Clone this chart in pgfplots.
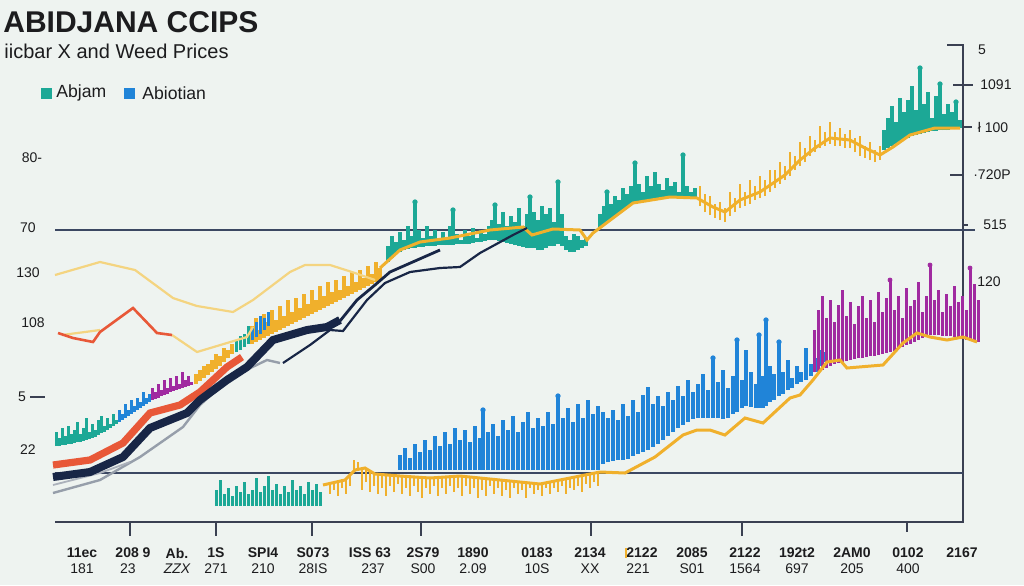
\documentclass[border=0pt]{standalone}
\usepackage{pgfplots}
\pgfplotsset{compat=1.18}
\usepackage{fontspec}
\setmainfont{Liberation Sans}
\definecolor{bg}{RGB}{238,243,240}
\definecolor{cteal}{RGB}{28,168,150}
\definecolor{cblue}{RGB}{32,132,216}
\definecolor{cyel}{RGB}{240,176,44}
\definecolor{cpale}{RGB}{244,212,128}
\definecolor{cred}{RGB}{232,88,56}
\definecolor{cnavy}{RGB}{24,38,70}
\definecolor{cgrey}{RGB}{150,158,170}
\definecolor{cpurp}{RGB}{160,42,160}
\definecolor{caxis}{RGB}{58,64,82}
\definecolor{ctext}{RGB}{28,28,30}
\pgfplotsset{
  vbars/.style={draw=#1, line width=1.8pt, quiver={u=0, v=\thisrow{t}-\thisrow{b}}},
}
\begin{document}
\begin{tikzpicture}
\fill[bg] (0,0) rectangle (512pt,292.5pt);
\begin{axis}[at={(0,0)}, anchor=south west, scale only axis, width=512pt, height=292.5pt,
  xmin=0, xmax=1024, ymin=0, ymax=585, y dir=reverse, hide axis, clip=false]

% frame lines
\addplot[caxis, line width=1pt] coordinates {(55,522) (963,522) (963,45) (947,45)};
\addplot[cnavy!85, line width=0.8pt] coordinates {(55,230) (975,230)};
\addplot[cnavy!85, line width=0.8pt] coordinates {(55,473) (963,473)};
% bottom ticks
\addplot[caxis, line width=0.7pt] coordinates {(130,522) (130,536)};
\addplot[caxis, line width=0.7pt] coordinates {(216,522) (216,536)};
\addplot[caxis, line width=0.7pt] coordinates {(312,522) (312,536)};
\addplot[caxis, line width=0.7pt] coordinates {(421,522) (421,536)};
\addplot[caxis, line width=0.7pt] coordinates {(591,522) (591,536)};
\addplot[caxis, line width=0.7pt] coordinates {(742,522) (742,536)};
\addplot[caxis, line width=0.7pt] coordinates {(907,522) (907,532)};
% right ticks
\addplot[caxis, line width=0.6pt] coordinates {(953,85) (973,85)};
\addplot[caxis, line width=0.6pt] coordinates {(963,127) (972,127)};
\addplot[caxis, line width=0.6pt] coordinates {(950,175) (963,175)};
\addplot[caxis, line width=0.6pt] coordinates {(963,225) (968,225)};
\addplot[caxis, line width=0.6pt] coordinates {(30,397) (45,397)};

% grey lines
\addplot[cgrey, line width=1.2pt] coordinates {(53,493) (100,480) (140,457) (183,427) (200,405) (230,378) (240,373) (267,360) (280,363)};
\addplot[cgrey!80, line width=0.9pt] coordinates {(53,485) (100,473) (130,462)};

% blue bars
\addplot[vbars=cblue, line width=1.7pt] table[x=x,y=b] {
x b t
400 470 455
405 470 448
410 470 458
415 470 444
420 470 452
425 470 440
430 470 450
435 470 436
440 470 446
445 470 432
450 470 444
455 470 428
460 470 440
465 470 430
470 470 442
475 470 426
480 470 438
483 470 410
488 470 432
493 470 424
498 470 436
503 470 420
508 470 430
513 470 416
518 470 432
523 470 422
528 470 412
533 470 428
538 470 418
543 470 426
548 470 412
553 470 424
558 470 396
563 470 418
568 470 408
573 470 422
578 470 404
583 470 418
588 470 400
593 470 414
598 470 406
603 464 412
608 462 418
613 461 410
618 460 420
623 460 404
628 459 416
633 456 400
638 454 412
643 452 395
648 450 387
653 447 404
658 444 396
663 440 406
668 436 392
673 432 400
678 428 386
683 425 396
688 422 380
693 419 392
698 418 384
703 418 374
708 418 390
713 418 358
718 418 382
723 419 370
728 418 388
733 414 376
737 412 340
742 408 380
746 406 350
751 407 372
756 408 384
759 408 335
763 408 376
766 406 320
770 402 366
774 400 374
779 396 342
783 394 372
788 390 360
792 388 378
797 384 366
801 382 372
806 380 348
811 376 364
816 372 358
821 366 350
826 362 352
};
\addplot[only marks, mark=*, mark size=1.1pt, cblue] coordinates {(483,410) (558,396) (713,358) (737,340) (759,335) (766,320) (779,342)};

% purple bars
\addplot[vbars=cpurp, line width=1.5pt] table[x=x,y=b] {
x b t
814 372 330
818 371 310
822 370 296
826 368 318
830 366 300
834 364 322
838 363 305
842 362 290
846 361 316
850 360 302
854 359 324
858 358 306
862 358 296
866 357 318
870 356 300
874 356 322
878 355 292
882 354 312
886 353 298
890 352 280
894 351 310
898 349 296
902 347 318
906 345 288
910 344 306
914 342 300
918 340 282
922 338 312
926 336 296
930 335 265
934 335 300
938 335 290
942 336 312
946 336 294
950 336 306
954 337 286
958 338 302
962 339 296
966 340 310
970 341 268
974 342 284
978 342 300
};
\addplot[only marks, mark=*, mark size=1pt, cpurp] coordinates {(930,265) (970,268) (890,280)};

% lower teal bars
\addplot[vbars=cteal, line width=1.5pt] table[x=x,y=b] {
x b t
216 506 490
220 506 480
224 506 494
228 506 488
232 506 496
236 506 486
240 506 492
244 506 482
248 506 494
252 506 490
256 506 478
260 506 492
264 506 486
268 506 476
272 506 490
276 506 484
280 506 494
284 506 486
288 506 492
292 506 480
296 506 490
300 506 486
304 506 494
308 506 482
312 506 490
316 506 484
320 506 492
};

% lower yellow hanging bars
\addplot[vbars=cyel, line width=1.3pt] table[x=x,y=b] {
x b t
330 482 494
334 481 490
338 480 496
342 479 488
346 478 494
350 476 486
354 472 460
358 470 462
362 470 490
366 470 482
370 472 492
374 474 486
378 475 494
382 475 488
386 476 496
390 476 486
394 476 492
398 476 484
402 476 494
406 477 488
410 477 496
414 477 486
418 477 492
422 478 498
426 478 488
430 478 494
434 478 486
438 477 496
442 477 488
446 477 494
450 476 486
454 476 492
458 476 488
462 476 496
466 477 486
470 478 494
474 478 488
478 479 498
482 479 490
486 480 496
490 480 486
494 480 494
498 480 488
502 481 496
506 481 490
510 482 498
514 482 488
518 483 494
522 483 490
526 484 498
530 484 488
534 484 494
538 484 490
542 484 496
546 483 488
550 482 494
554 481 488
558 480 492
562 479 486
566 478 494
570 478 488
574 477 490
578 476 486
582 475 492
586 474 484
590 473 488
594 472 482
598 472 486
};

% orange bars
\addplot[vbars=cyel, line width=1.6pt] table[x=x,y=b] {
x b t
252 344 326
256 342 318
260 340 330
264 338 314
268 336 322
272 334 310
276 332 320
280 330 306
284 328 316
288 326 300
292 324 312
296 322 298
300 320 308
304 318 294
308 316 304
312 314 290
316 312 300
320 310 286
324 308 296
328 306 282
332 304 292
336 302 280
340 300 290
344 298 276
348 296 286
352 294 272
356 292 282
360 290 270
364 288 278
368 286 266
372 284 274
376 282 262
380 280 268
};

% left small bars
\addplot[vbars=cteal, line width=1.5pt] table[x=x,y=b] {
x b t
56 446 432
59 446 438
62 445 428
65 445 436
68 444 426
71 444 434
74 443 430
77 442 422
80 442 434
83 441 428
86 440 418
89 439 432
92 438 424
95 437 430
98 435 420
101 433 416
104 432 426
107 430 418
110 428 424
113 426 414
116 424 420
236 352 340
240 350 336
244 347 334
248 344 326
};
\addplot[vbars=cblue, line width=1.5pt] table[x=x,y=b] {
x b t
119 422 410
122 420 414
125 418 404
128 416 410
131 414 400
134 412 406
137 410 398
140 408 402
143 406 392
146 404 398
149 402 394
252 340 328
256 337 322
260 334 316
264 330 318
268 326 312
};
\addplot[vbars=cpurp, line width=1.5pt] table[x=x,y=b] {
x b t
152 400 388
155 399 392
158 398 384
161 396 390
164 395 380
167 394 388
170 392 378
173 391 386
176 390 376
179 389 384
182 388 372
185 387 380
188 386 376
191 385 382
};
\addplot[vbars=cyel, line width=1.6pt] table[x=x,y=b] {
x b t
196 384 374
200 381 370
204 378 366
208 375 364
212 372 360
216 369 354
220 366 356
224 362 348
228 358 350
232 354 344
};

% upper teal cluster
\addplot[vbars=cteal] table[x=x,y=b] {
x b t
388 262 246
392 258 236
396 254 242
400 252 232
404 250 240
408 249 226
412 248 236
415 248 202
419 247 230
423 247 238
427 246 226
431 246 236
435 246 230
439 245 240
443 245 232
447 245 238
450 245 226
453 245 210
457 244 234
461 244 240
465 244 230
469 244 236
473 243 228
477 242 238
481 242 230
485 241 234
489 240 226
492 240 220
495 240 205
499 241 224
503 242 212
507 243 226
511 244 216
515 245 222
519 246 208
523 247 226
527 248 214
530 248 197
534 248 212
538 250 220
542 250 206
546 248 214
550 246 208
554 246 222
558 244 182
562 246 214
566 250 236
570 252 240
574 252 234
578 250 236
582 248 240
586 246 238
600 228 214
604 224 206
607 222 192
611 219 204
615 216 196
619 213 200
623 210 188
627 207 194
631 204 186
635 203 163
639 202 184
643 201 192
647 200 176
651 200 186
655 199 172
659 199 184
663 198 190
667 198 178
671 197 186
675 197 182
679 197 192
683 197 155
687 197 186
691 198 192
695 198 188
884 150 130
888 148 118
892 146 106
896 144 122
900 142 98
904 140 112
908 138 100
912 136 86
916 135 110
920 134 68
924 133 104
928 132 92
932 131 118
936 131 96
940 130 84
944 130 114
948 130 104
952 129 112
956 129 102
960 128 120
};
\addplot[only marks, mark=*, mark size=1.1pt, cteal] coordinates {(415,202) (453,210) (495,205) (530,197) (558,182) (607,192) (635,163) (683,155) (920,68) (940,84) (956,102)};

% upper yellow bars
\addplot[vbars=cyel, line width=1pt] table[x=x,y=b] {
x b t
700 206 186
705 212 194
710 215 196
715 218 204
720 220 202
725 222 208
730 216 192
735 212 198
740 208 184
745 206 192
750 204 180
755 200 186
760 198 176
765 196 180
770 192 170
775 188 170
780 184 162
785 180 166
790 176 152
795 170 156
800 166 142
805 162 148
810 156 136
815 152 140
820 148 126
825 146 132
830 144 122
835 146 132
840 146 128
845 148 134
850 148 130
855 152 138
860 156 136
865 158 146
870 160 142
875 162 150
880 160 146
};

% lines
\addplot[cpale, line width=1.1pt] coordinates {(55,275) (100,262) (135,270) (173,298) (197,306) (233,312) (253,300) (290,272) (305,265) (330,265) (352,272) (375,280)};
\addplot[cpale, line width=1.1pt] coordinates {(62,335) (85,332) (100,330)};
\addplot[cpale, line width=1.1pt] coordinates {(172,335) (197,352) (247,337) (253,327)};
\addplot[cred, line width=1.3pt] coordinates {(58,333) (73,338) (93,342) (100,332) (133,308) (157,333) (172,335)};
\addplot[cyel, line width=1.5pt] coordinates {(380,268) (400,250) (420,242) (450,238) (490,230) (523,227) (532,235) (553,229) (580,230) (587,240) (593,233) (613,218) (633,203) (670,197) (697,198) (713,207) (725,212) (740,200) (760,192) (785,175) (800,160) (815,148) (830,138) (850,140) (865,148) (880,155) (893,147) (910,135) (935,128) (960,128)};
\addplot[cyel, line width=1.5pt] coordinates {(323,485) (345,480) (355,470) (365,468) (375,474) (400,476) (430,478) (460,476) (500,480) (540,484) (570,478) (600,472) (625,473) (655,457) (683,435) (697,430) (710,430) (725,435) (745,418) (763,423) (790,398) (800,395) (813,380) (827,362) (840,360) (847,368) (883,365) (903,343) (917,333) (930,337) (947,340) (963,337) (977,342)};
\addplot[cred, line width=3.6pt] coordinates {(53,465) (90,460) (123,443) (150,413) (180,405) (200,392) (213,380) (227,367) (242,357)};
\addplot[cnavy, line width=4pt] coordinates {(53,477) (90,472) (123,457) (150,428) (187,413) (200,400) (227,380) (247,367) (273,340) (307,330) (327,327) (340,320)};
\addplot[cnavy, line width=1.4pt] coordinates {(340,321) (357,300) (375,285) (390,272) (440,250)};
\addplot[cnavy, line width=1.1pt] coordinates {(283,363) (310,345) (330,330) (343,331) (367,300) (385,283) (410,272) (440,268) (460,267) (480,253) (513,235) (527,228)};

% legend squares
\addplot[only marks, mark=square*, mark size=2.5pt, cteal] coordinates {(46,93)};
\addplot[only marks, mark=square*, mark size=2.5pt, cblue] coordinates {(129,93)};

% texts
\node[anchor=west, inner sep=0, text=ctext, font=\bfseries\fontsize{15}{18}\selectfont] at (axis cs:3,22) {ABIDJANA CCIPS};
\node[anchor=west, inner sep=0, text=ctext, font=\fontsize{10}{12}\selectfont] at (axis cs:4,51) {iicbar X and Weed Prices};
\node[anchor=west, inner sep=0, text=ctext, font=\fontsize{8.8}{10}\selectfont] at (axis cs:56,93) {Abjam};
\node[anchor=west, inner sep=0, text=ctext, font=\fontsize{8.8}{10}\selectfont] at (axis cs:142,93) {Abiotian};

\begin{scope}[every node/.style={inner sep=0, text=ctext, font=\fontsize{7}{8}\selectfont}]
\node at (axis cs:32,158) {80-};
\node at (axis cs:28,228) {70};
\node at (axis cs:28,273) {130};
\node at (axis cs:33,323) {108};
\node at (axis cs:22,397) {5};
\node at (axis cs:28,450) {22};
\node at (axis cs:982,50) {5};
\node at (axis cs:996,85) {1091};
\node at (axis cs:993,127) {ł 100};
\node at (axis cs:992,175) {·720P};
\node at (axis cs:995,225) {515};
\node at (axis cs:989,282) {120};
\end{scope}

\begin{scope}[every node/.style={inner sep=0, text=ctext, font=\bfseries\fontsize{7}{8}\selectfont}]
\node at (axis cs:82,553) {11ec};
\node at (axis cs:133,553) {208 9};
\node at (axis cs:177,553) {Ab.};
\node at (axis cs:216,553) {1S};
\node at (axis cs:263,553) {SPI4};
\node at (axis cs:313,553) {S073};
\node at (axis cs:370,553) {ISS 63};
\node at (axis cs:423,553) {2S79};
\node at (axis cs:473,553) {1890};
\node at (axis cs:537,553) {0183};
\node at (axis cs:590,553) {2134};
\node at (axis cs:642,553) {2122};
\node at (axis cs:692,553) {2085};
\node at (axis cs:745,553) {2122};
\node at (axis cs:797,553) {192t2};
\node at (axis cs:852,553) {2AM0};
\node at (axis cs:908,553) {0102};
\node at (axis cs:962,553) {2167};
\end{scope}
\addplot[cyel, line width=1.2pt] coordinates {(626,548) (626,558)};
\begin{scope}[every node/.style={inner sep=0, text=ctext, font=\fontsize{7}{8}\selectfont}]
\node at (axis cs:82,569) {181};
\node at (axis cs:128,569) {23};
\node at (axis cs:177,569) {\itshape ZZX};
\node at (axis cs:216,569) {271};
\node at (axis cs:263,569) {210};
\node at (axis cs:313,569) {28IS};
\node at (axis cs:373,569) {237};
\node at (axis cs:423,569) {S00};
\node at (axis cs:473,569) {2.09};
\node at (axis cs:537,569) {10S};
\node at (axis cs:590,569) {XX};
\node at (axis cs:638,569) {221};
\node at (axis cs:692,569) {S01};
\node at (axis cs:745,569) {1564};
\node at (axis cs:797,569) {697};
\node at (axis cs:852,569) {205};
\node at (axis cs:908,569) {400};
\end{scope}
\end{axis}
\end{tikzpicture}
\end{document}
